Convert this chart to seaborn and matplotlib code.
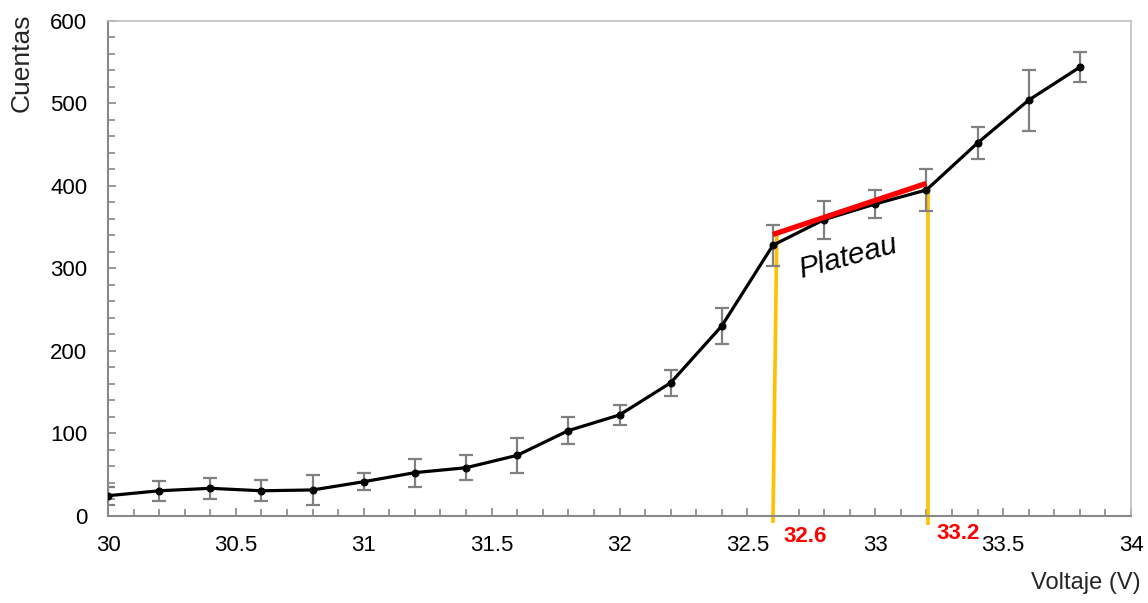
import matplotlib
matplotlib.use("Agg")
import matplotlib.pyplot as plt
import seaborn as sns
import numpy as np
import pandas as pd
from matplotlib.ticker import MultipleLocator

voltaje = [30.0, 30.2, 30.4, 30.6, 30.8, 31.0, 31.2, 31.4, 31.6, 31.8,
           32.0, 32.2, 32.4, 32.6, 32.8, 33.0, 33.2, 33.4, 33.6, 33.8]
cuentas = [24, 30, 33, 30, 31, 41, 52, 58, 73, 103,
           122, 161, 230, 328, 359, 378, 395, 452, 504, 544]
error = [11, 12, 13, 13, 18, 10, 17, 15, 21, 16,
         12, 16, 22, 25, 23, 17, 25, 19, 37, 18]

plateau_x = [32.6, 33.2]
plateau_y = [341, 403]
plateau_labels = ["32.6", "33.2"]
x_ticks = [30, 30.5, 31, 31.5, 32, 32.5, 33, 33.5, 34]
x_tick_labels = ["30", "30.5", "31", "31.5", "32", "32.5", "33", "33.5", "34"]
y_ticks = [0, 100, 200, 300, 400, 500, 600]

sns.set_theme(style="white")
plt.rcParams['font.family'] = ['Liberation Sans', 'DejaVu Sans']

df = pd.DataFrame({"Voltaje": voltaje, "Cuentas": cuentas, "err": error})

fig = plt.figure(figsize=(11.48, 6.03), dpi=100)
ax = fig.add_axes([108/1148, (603-515.5)/603, (1131-108)/1148, (515.5-21)/603])

ax.errorbar(df["Voltaje"], df["Cuentas"], yerr=df["err"], fmt="none",
            ecolor="#808080", elinewidth=1.6, capsize=5, capthick=1.6, zorder=2)
sns.lineplot(data=df, x="Voltaje", y="Cuentas", ax=ax, color="black",
             linewidth=2.3, marker="o", markersize=5, markeredgecolor="black",
             zorder=3)

# plateau red line
ax.plot(plateau_x, plateau_y, color="#FF0000", linewidth=3.8, zorder=4,
        solid_capstyle="butt")
# yellow vertical lines
ax.plot([plateau_x[0] + 0.015, plateau_x[0]], [plateau_y[0], -9], color="#FFC000",
        linewidth=2.6, zorder=1, clip_on=False, solid_capstyle="butt")
ax.plot([plateau_x[1] + 0.006, plateau_x[1] + 0.006], [cuentas[16], -12], color="#FFC000",
        linewidth=2.6, zorder=1, clip_on=False, solid_capstyle="butt")

ax.text(32.895, 313, "Plateau", fontsize=21.5, style="italic", rotation=15,
        ha="center", va="center", color="black")
ax.text(32.725, -26, plateau_labels[0], color="#FF0000", fontsize=16,
        fontweight="bold", ha="center", va="center")
ax.text(33.324, -22, plateau_labels[1], color="#FF0000", fontsize=16,
        fontweight="bold", ha="center", va="center")

ax.set_xlim(30, 34)
ax.set_ylim(0, 600)
ax.set_xticks(x_ticks)
ax.set_xticklabels(x_tick_labels)
ax.set_yticks(y_ticks)
ax.xaxis.set_minor_locator(MultipleLocator(0.1))
ax.yaxis.set_minor_locator(MultipleLocator(20))
ax.tick_params(axis="x", which="major", pad=14)
ax.tick_params(axis="y", which="major", pad=15)
ax.tick_params(axis="both", which="major", labelsize=16, colors="#888888",
               labelcolor="black", direction="in", length=6, width=1.2,
               bottom=True, left=True)
ax.tick_params(axis="both", which="minor", colors="#888888", direction="in",
               length=5, width=1.2, bottom=True, left=True)
ax.set_xlabel("")
ax.set_ylabel("")

for side in ["left", "bottom"]:
    ax.spines[side].set_color("#888888")
    ax.spines[side].set_linewidth(1.5)
for side in ["top", "right"]:
    ax.spines[side].set_color("#BFBFBF")
    ax.spines[side].set_linewidth(1.2)

fig.text(22/1148, (603-63)/603, "Cuentas", rotation=90, fontsize=19,
         ha="center", va="center")
fig.text(1141/1148, (603-583)/603, "Voltaje (V)", fontsize=17,
         ha="right", va="center")
fig.text(560/1148, 1.0 + 12/603, "Región Geiger y plateau", fontsize=18,
         fontweight="bold", ha="center", va="bottom")

fig.savefig("out.png", dpi=100)
